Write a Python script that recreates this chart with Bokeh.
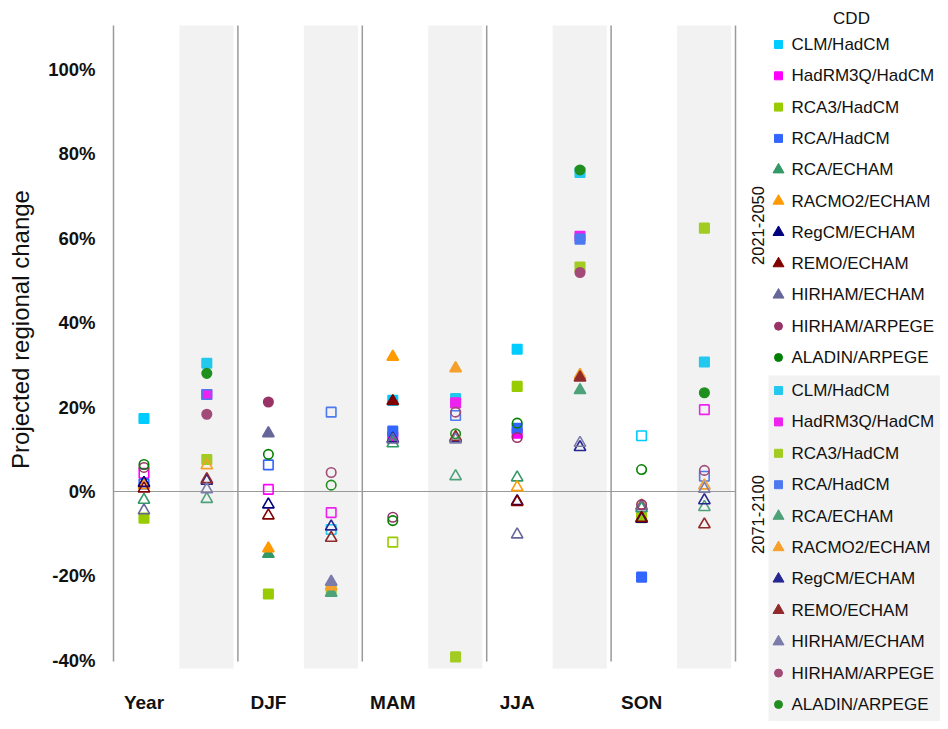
import math
from bokeh.plotting import figure
from bokeh.models import Range1d, ColumnDataSource
from bokeh.embed import file_html
from bokeh.resources import INLINE
from bokeh.core.properties import value

# ---------------- data ----------------
seasons = ["Year", "DJF", "MAM", "JJA", "SON"]
periods = ["2021-2050", "2071-2100"]
legend_title = "CDD"
y_title = "Projected regional change"
y_ticks = [-40, -20, 0, 20, 40, 60, 80, 100]

models = ["CLM/HadCM", "HadRM3Q/HadCM", "RCA3/HadCM", "RCA/HadCM", "RCA/ECHAM",
          "RACMO2/ECHAM", "RegCM/ECHAM", "REMO/ECHAM", "HIRHAM/ECHAM",
          "HIRHAM/ARPEGE", "ALADIN/ARPEGE"]
markers = ["square"] * 4 + ["triangle"] * 5 + ["circle"] * 2
colors_p1 = ["#00CCFF", "#FF00FF", "#99CC00", "#3366FF", "#339966", "#FF9900",
             "#000080", "#800000", "#666699", "#993366", "#008000"]
colors_p2 = ["#22C8EE", "#EE22EE", "#A2CC22", "#4D79F0", "#4DA27A", "#F5A02A",
             "#262690", "#902A2A", "#7C7CAA", "#A24A78", "#1F8F1F"]

nan = float("nan")
# values per season (Year, DJF, MAM, JJA, SON), % change; flags: F = filled, H = hollow
p1_values = {
    "CLM/HadCM":     [17.3, nan, 21.6, 33.7, 13.2],
    "HadRM3Q/HadCM": [4.3, 0.5, 13.0, 13.8, nan],
    "RCA3/HadCM":    [-6.3, -24.3, -12.0, 24.9, -6.2],
    "RCA/HadCM":     [1.8, 6.3, 14.3, 15.0, -20.3],
    "RCA/ECHAM":     [-2.0, -14.8, 11.4, 3.3, -4.0],
    "RACMO2/ECHAM":  [1.5, -13.5, 31.9, 1.0, -3.3],
    "RegCM/ECHAM":   [2.0, -3.1, 12.5, -2.3, -6.5],
    "REMO/ECHAM":    [0.7, -5.7, 21.4, -2.5, -6.3],
    "HIRHAM/ECHAM":  [-4.5, 13.8, 12.3, -10.2, -3.5],
    "HIRHAM/ARPEGE": [5.7, 21.2, -6.1, 12.8, -3.1],
    "ALADIN/ARPEGE": [6.4, 8.8, -6.9, 16.2, 5.2],
}
p1_flags = {
    "CLM/HadCM": "FFFFH", "HadRM3Q/HadCM": "HHFFH", "RCA3/HadCM": "FFHFF",
    "RCA/HadCM": "HHFFF", "RCA/ECHAM": "HFHHH", "RACMO2/ECHAM": "HFFHH",
    "RegCM/ECHAM": "HHHHH", "REMO/ECHAM": "HHFHH", "HIRHAM/ECHAM": "HFHHH",
    "HIRHAM/ARPEGE": "HFHHH", "ALADIN/ARPEGE": "HHHHH",
}
p2_values = {
    "CLM/HadCM":     [30.4, -9.0, 22.0, 75.6, 30.7],
    "HadRM3Q/HadCM": [23.0, -5.0, 21.0, 60.5, 19.4],
    "RCA3/HadCM":    [7.6, -23.0, -39.2, 53.2, 62.4],
    "RCA/HadCM":     [23.0, 18.8, 18.0, 59.8, 3.6],
    "RCA/ECHAM":     [-1.8, -24.0, 3.6, 24.0, -3.7],
    "RACMO2/ECHAM":  [6.2, -22.5, 29.2, 27.6, 1.4],
    "RegCM/ECHAM":   [2.5, -8.3, 12.6, 10.5, -2.1],
    "REMO/ECHAM":    [2.9, -11.0, 12.9, 27.0, -7.8],
    "HIRHAM/ECHAM":  [0.5, -21.4, 12.3, 11.5, 0.6],
    "HIRHAM/ARPEGE": [18.3, 4.5, 18.8, 51.9, 5.0],
    "ALADIN/ARPEGE": [28.0, 1.5, 13.7, 76.2, 23.4],
}
p2_flags = {
    "CLM/HadCM": "FHFFF", "HadRM3Q/HadCM": "FHFFH", "RCA3/HadCM": "FFFFF",
    "RCA/HadCM": "HHHFH", "RCA/ECHAM": "HFHFH", "RACMO2/ECHAM": "HFFFH",
    "RegCM/ECHAM": "HHHHH", "REMO/ECHAM": "HHHFH", "HIRHAM/ECHAM": "HFHHH",
    "HIRHAM/ARPEGE": "FHHFH", "ALADIN/ARPEGE": "FHHFF",
}

# ---------------- geometry (screen pixels -> data units) ----------------
FIG_W, FIG_H = 940, 721
SEP0_PX = 113          # screen x of the first separator (value axis)
SEASON_PX = 124.4      # screen px per season block
ZERO_PX = 491          # screen y of 0 %
PX_PER_PCT = 4.22


def xs(px):
    return (px - SEP0_PX) / SEASON_PX


def ys(py):
    return (ZERO_PX - py) / PX_PER_PCT


PLOT_TOP = ys(25)
SHADE_BOT = ys(668)
LINE_BOTTOM = ys(661)
LEFT_OFF, RIGHT_OFF = 0.245, 0.75
SHADE_L, SHADE_R = 0.53, 0.965
SEP_COLOR = "#9A9A9A"
SHADE_COLOR = "#F2F2F2"
TXT = "#111111"
FONT = value("Liberation Sans")
marker_size = {"square": 9.5, "triangle": 11.5, "circle": 9.5}
leg_size = {"square": 8, "triangle": 11, "circle": 8}

n = len(seasons)
p = figure(width=FIG_W, height=FIG_H, output_backend="svg", toolbar_location=None,
           x_range=Range1d(xs(0), xs(FIG_W)), y_range=Range1d(ys(FIG_H), ys(0)),
           x_axis_type=None, y_axis_type=None, min_border=0)
p.grid.visible = False
p.outline_line_color = None
p.background_fill_color = "white"

# shaded bands
p.quad(left=[i + SHADE_L for i in range(n)], right=[i + SHADE_R for i in range(n)],
       top=PLOT_TOP, bottom=SHADE_BOT, fill_color=SHADE_COLOR, line_color=None)
# separators (incl. value axis line)
p.segment(x0=list(range(n + 1)), x1=list(range(n + 1)), y0=PLOT_TOP, y1=LINE_BOTTOM,
          line_color=SEP_COLOR, line_width=1.5)
# zero line
p.segment(x0=[0], x1=[n], y0=[0], y1=[0], line_color=SEP_COLOR, line_width=1.2)

for k, m in enumerate(models):
    for vals, flags, off, col in ((p1_values[m], p1_flags[m], LEFT_OFF, colors_p1[k]),
                                  (p2_values[m], p2_flags[m], RIGHT_OFF, colors_p2[k])):
        src = ColumnDataSource(dict(
            x=[i + off for i in range(n)], y=vals,
            fa=[1.0 if f == "F" else 0.0 for f in flags]))
        p.scatter("x", "y", source=src, marker=markers[k], size=marker_size[markers[k]],
                  fill_color=col, line_color=col, fill_alpha="fa", line_width=1.6)

# category labels
p.text(x=[i + LEFT_OFF for i in range(n)], y=[ys(702)] * n, text=seasons,
       text_align="center", text_baseline="middle", text_font=FONT,
       text_font_style="bold", text_font_size="19px", text_color=TXT)

# value-axis tick labels and title
p.text(x=[xs(95)] * len(y_ticks), y=y_ticks, text=[f"{t}%" for t in y_ticks],
       text_align="right", text_baseline="middle", text_font=FONT,
       text_font_style="bold", text_font_size="18.5px", text_color=TXT)
p.text(x=[xs(20)], y=[ys(329)], text=[y_title], angle=math.pi / 2,
       text_align="center", text_baseline="middle", text_font=FONT,
       text_font_size="24px", text_color=TXT)

# ---------------- legend ----------------
p.quad(left=[xs(768)], right=[xs(FIG_W)], top=[ys(375)], bottom=[ys(FIG_H)],
       fill_color=SHADE_COLOR, line_color=None)
p.text(x=[xs(851)], y=[ys(18)], text=[legend_title], text_align="center",
       text_baseline="middle", text_font=FONT, text_font_size="17px", text_color=TXT)

groups = [(44, 31.3, colors_p1, 225), (390, 31.4, colors_p2, 514)]
for g, (start, step, cols, mid) in enumerate(groups):
    yy = [ys(start + step * k) for k in range(len(models))]
    for k in range(len(models)):
        p.scatter(x=[xs(778)], y=[yy[k]], marker=markers[k], size=leg_size[markers[k]],
                  fill_color=cols[k], line_color=cols[k])
    p.text(x=[xs(791)] * len(models), y=yy, text=models, text_align="left",
           text_baseline="middle", text_font=FONT, text_font_size="17px", text_color=TXT)
    p.text(x=[xs(757)], y=[ys(mid)], text=[periods[g]], angle=math.pi / 2,
           text_align="center", text_baseline="middle", text_font=FONT,
           text_font_size="16.5px", text_color=TXT)

open("out.html", "w").write(file_html(p, INLINE))
